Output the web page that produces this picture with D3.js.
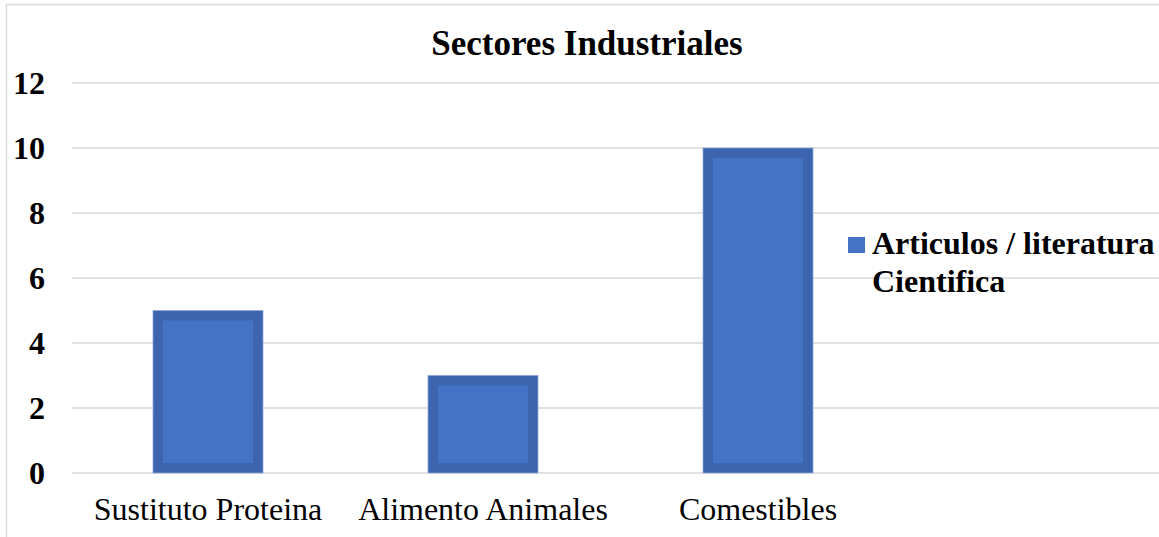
<!DOCTYPE html>
<html>
<head>
<meta charset="utf-8">
<script src="https://cdn.jsdelivr.net/npm/d3@7"></script>
<style>
  html, body { margin: 0; padding: 0; background: #fff; }
  svg { display: block; }
</style>
</head>
<body>
<svg id="chart" width="1159" height="537"></svg>
<script>
// Chart data
const categories = ["Sustituto Proteina", "Alimento Animales", "Comestibles"];
const values = [5, 3, 10];
const yTicks = [0, 2, 4, 6, 8, 10, 12];
const seriesName = ["Articulos / literatura", "Cientifica"];
const chartTitle = "Sectores Industriales";

const W = 1159, H = 537;
const svg = d3.select("#chart");
const serif = "'Liberation Serif', 'Times New Roman', serif";

// Chart frame
svg.append("rect")
  .attr("x", 6.5).attr("y", 4.5)
  .attr("width", W + 20).attr("height", H + 20)
  .attr("fill", "#fff")
  .attr("stroke", "#d9d9d9").attr("stroke-width", 1.5);

const plotLeft = 72, plotRight = 1172;
const y = d3.scaleLinear().domain([0, 12]).range([473, 83]);
const x = d3.scaleBand().domain(categories)
  .range([70.5, 895.5]).paddingInner(0.6).paddingOuter(0.3);

// Gridlines
svg.append("g").selectAll("line").data(yTicks).join("line")
  .attr("x1", plotLeft).attr("x2", plotRight)
  .attr("y1", d => y(d)).attr("y2", d => y(d))
  .attr("stroke", "#d9d9d9").attr("stroke-width", 1.5);

// Y axis labels
const yAxis = d3.axisLeft(y).tickValues(yTicks).tickSize(0).tickPadding(0);
const gy = svg.append("g").attr("transform", "translate(45,0)").call(yAxis);
gy.select(".domain").remove();
gy.selectAll("text")
  .attr("font-family", serif).attr("font-size", 32).attr("font-weight", "bold")
  .attr("fill", "#000").attr("dy", "0.34em");

// Bars: darker outer frame with lighter inner fill
const inset = 10;
const bars = svg.append("g").selectAll("g").data(values).join("g");
bars.append("rect")
  .attr("x", (d, i) => x(categories[i]))
  .attr("y", d => y(d))
  .attr("width", x.bandwidth())
  .attr("height", d => y(0) - y(d))
  .attr("fill", "#3d64ae")
  .attr("stroke", "#8ea6d6").attr("stroke-width", 0.8);
bars.append("rect")
  .attr("x", (d, i) => x(categories[i]) + inset)
  .attr("y", d => y(d) + inset)
  .attr("width", x.bandwidth() - 2 * inset)
  .attr("height", d => Math.max(0, y(0) - y(d) - 2 * inset))
  .attr("fill", "#4472c4");

// X axis labels
const xAxis = d3.axisBottom(x).tickSize(0).tickPadding(0);
const gx = svg.append("g").attr("transform", "translate(0,520)").call(xAxis);
gx.select(".domain").remove();
gx.selectAll("text")
  .attr("font-family", serif).attr("font-size", 32)
  .attr("fill", "#000").attr("dy", 0);

// Title
svg.append("text")
  .attr("x", 587).attr("y", 55)
  .attr("text-anchor", "middle")
  .attr("font-family", serif).attr("font-size", 35).attr("font-weight", "bold")
  .attr("fill", "#000")
  .text(chartTitle);

// Legend
const lg = svg.append("g");
lg.append("rect")
  .attr("x", 848).attr("y", 237).attr("width", 17).attr("height", 16)
  .attr("fill", "#4472c4");
lg.append("text")
  .attr("font-family", serif).attr("font-size", 32).attr("font-weight", "bold")
  .attr("fill", "#000")
  .selectAll("tspan").data(seriesName).join("tspan")
  .attr("x", 872).attr("y", (d, i) => 254 + i * 38)
  .text(d => d);
</script>
</body>
</html>
